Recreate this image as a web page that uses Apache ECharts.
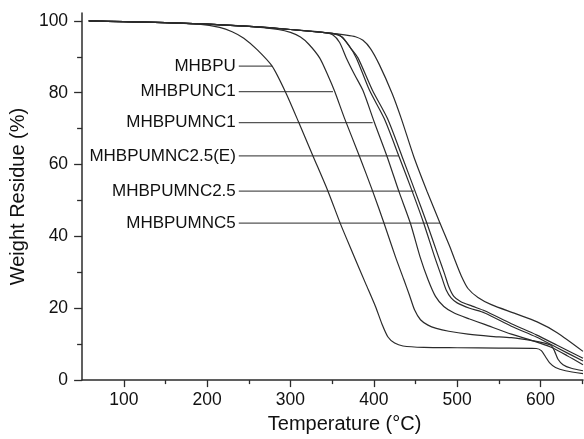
<!DOCTYPE html>
<html>
<head>
<meta charset="utf-8">
<script src="https://cdn.jsdelivr.net/npm/echarts@6/dist/echarts.min.js"></script>
<style>
  html, body { margin: 0; padding: 0; background: #fff; }
  #chart { width: 584px; height: 439px; }
</style>
</head>
<body>
<div id="chart"></div>
<script>
// TGA curves, [temperature, weight residue %]
var mhbpu = [[58,100],[100,99.8],[150,99.5],[190,99.1],[215,98.2],[230,97],[244,95.2],[260,92],[278,87.4],[294,80.2],[310,71.7],[327,62.4],[345,52.6],[360,43.5],[375,35.2],[390,27],[402,20.5],[410,15.5],[417,12],[425,10.3],[435,9.5],[460,9.1],[500,9],[550,8.9],[595,8.8],[601,8.2],[606,6.5],[611,4.8],[618,3.5],[630,2.6],[651,1.8]];
var mhbpunc1 = [[58,100],[100,99.8],[150,99.5],[200,99.1],[250,98.5],[285,97.6],[300,96.8],[312,95.5],[322,93.5],[335,89.7],[345,84.8],[353,80.4],[365,72.8],[383,62.2],[398.6,52.6],[412.4,43.6],[426,34.3],[436,28],[443,23.5],[449,19.5],[456,16.8],[465,15.3],[475,14.4],[490,13.6],[513,12.8],[540,12.2],[565,11.8],[590,11],[605,10.3],[613,9.6],[617,8],[621,5.8],[627,4.3],[637,3.3],[651,2.6]];
var mhbpumnc1 = [[58,100],[100,99.8],[150,99.5],[200,99.1],[256,98.4],[300,97.6],[340,96.8],[351,96.1],[359,94],[367,89.7],[377,85],[387,80.6],[400.6,71.8],[416,62.2],[430,52.6],[444,43.6],[455.5,34.3],[465,28],[474,23.3],[484,20.5],[497,18.6],[515,17],[533,15.5],[565,12.8],[590,11],[612,9.2],[632,6.8],[651,4.3]];
var mhbpumnc25e = [[58,100],[100,99.8],[150,99.5],[200,99.1],[256,98.4],[300,97.6],[347,96.6],[359,96],[370,93.2],[379,89.7],[395,80.6],[412.5,72.8],[430,62.4],[446,52.6],[460,43.6],[473,34.3],[481,29],[487,25],[493,22.8],[500,21.5],[515,20],[533,18.7],[565,15],[595,12],[620,9],[651,5.3]];
var mhbpumnc25 = [[58,100],[100,99.8],[150,99.5],[200,99.1],[256,98.4],[300,97.6],[347,96.6],[352,96.4],[362,95.5],[372,92.5],[381,89.7],[398.5,80.6],[416.4,72.8],[434,62.2],[449.5,52.6],[463.8,43.6],[477.7,34.3],[485,29.5],[490,26],[496,23.3],[504,21.9],[518,20.6],[533,19.3],[565,15.7],[595,12.6],[620,9.7],[651,6.1]];
var mhbpumnc5 = [[58,100],[100,99.8],[150,99.5],[200,99.1],[256,98.4],[300,97.6],[347,96.6],[365,96.1],[378,95.6],[387,94.6],[396,92.3],[406.5,87.9],[422,79.8],[433,72.8],[448,62.2],[463.8,52.6],[479.6,43.6],[491.5,37],[498,33],[505,29],[513,25.5],[525,23],[541,21],[570,18.5],[596,16.2],[620,13.2],[651,8]];

var curveNames = ['MHBPU', 'MHBPUNC1', 'MHBPUMNC1', 'MHBPUMNC2.5(E)', 'MHBPUMNC2.5', 'MHBPUMNC5'];
var curves = [mhbpu, mhbpunc1, mhbpumnc1, mhbpumnc25e, mhbpumnc25, mhbpumnc5];

// leader lines: label at left end, line runs to the curve
var leaderLevel = [87.4, 80.3, 71.7, 62.4, 52.6, 43.7];
var leaderStart = [238, 238, 238, 238, 238, 238];
var leaderEnd = [278, 351, 398.6, 430, 448, 479.6];

var xMajor = [100, 200, 300, 400, 500, 600];
var xMinor = [150, 250, 350, 450, 550, 650];
var yMajor = [0, 20, 40, 60, 80, 100];
var yMinor = [10, 30, 50, 70, 90];

var ink = '#2b2b2b';
var font = 'Liberation Sans';

var series = [];
curves.forEach(function (d, i) {
  series.push({
    name: curveNames[i],
    type: 'line',
    data: d,
    showSymbol: false,
    smooth: 0.25,
    lineStyle: { color: ink, width: 1.2 },
    z: 3
  });
});
curveNames.forEach(function (n, i) {
  series.push({
    type: 'line',
    data: [
      { value: [leaderStart[i], leaderLevel[i]], label: { show: true, formatter: n } },
      { value: [leaderEnd[i], leaderLevel[i]], label: { show: false } }
    ],
    showSymbol: true,
    symbol: 'circle',
    symbolSize: 0,
    lineStyle: { color: '#555', width: 1.2 },
    label: {
      position: 'left',
      distance: 3,
      color: '#111',
      fontFamily: font,
      fontSize: 17
    },
    z: 2
  });
});

var chart = echarts.init(document.getElementById('chart'));
chart.setOption({
  animation: false,
  backgroundColor: '#fff',
  grid: { left: 77, right: 1, top: 13, bottom: 54 },
  xAxis: [{
    type: 'value',
    min: 50,
    max: 651,
    name: 'Temperature (°C)',
    nameLocation: 'middle',
    nameGap: 29,
    nameTextStyle: { fontFamily: font, fontSize: 20, color: '#111', padding: [0, 0, 0, 24] },
    axisLine: { show: true, lineStyle: { color: ink, width: 1.5 } },
    axisTick: { show: true, length: 7, customValues: xMajor, lineStyle: { color: ink, width: 1.3 } },
    axisLabel: { customValues: xMajor, margin: 11, fontFamily: font, fontSize: 17.5, color: '#111' },
    splitLine: { show: false }
  }, {
    type: 'value',
    min: 50,
    max: 651,
    position: 'bottom',
    axisLine: { show: false },
    axisTick: { show: true, length: 4, customValues: xMinor, lineStyle: { color: ink, width: 1.3 } },
    axisLabel: { show: false },
    splitLine: { show: false }
  }],
  yAxis: [{
    type: 'value',
    min: 0,
    max: 102.2,
    name: 'Weight Residue (%)',
    nameLocation: 'middle',
    nameGap: 40,
    nameTextStyle: { fontFamily: font, fontSize: 20, color: '#111' },
    axisLine: { show: true, lineStyle: { color: ink, width: 1.5 } },
    axisTick: { show: true, length: 8, customValues: yMajor, lineStyle: { color: ink, width: 1.3 } },
    axisLabel: { customValues: yMajor, margin: 14, fontFamily: font, fontSize: 17.5, color: '#111' },
    splitLine: { show: false }
  }, {
    type: 'value',
    min: 0,
    max: 102.2,
    position: 'left',
    axisLine: { show: false },
    axisTick: { show: true, length: 5, customValues: yMinor, lineStyle: { color: ink, width: 1.3 } },
    axisLabel: { show: false },
    splitLine: { show: false }
  }],
  series: series
});
</script>
</body>
</html>
